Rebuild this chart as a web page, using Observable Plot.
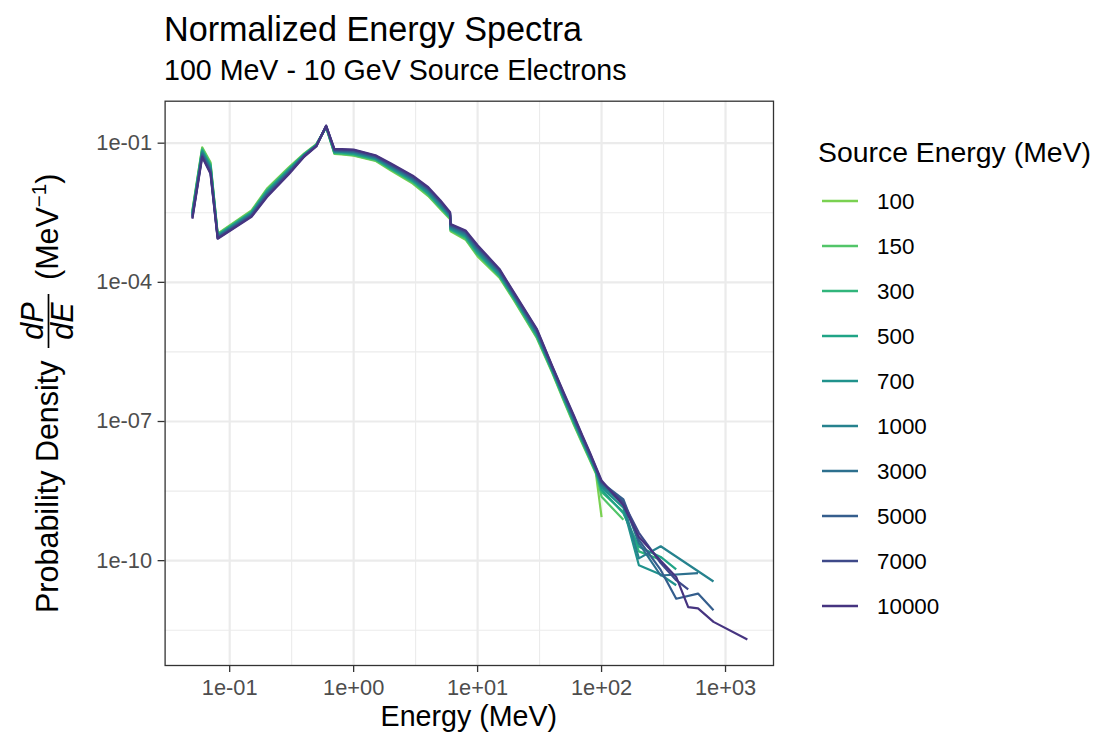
<!DOCTYPE html>
<html><head><meta charset="utf-8">
<script src="https://cdn.jsdelivr.net/npm/d3@7"></script>
<script src="https://cdn.jsdelivr.net/npm/@observablehq/plot@0.6"></script>
<style>
body{margin:0;background:#fff;}
#chart svg{display:block;}
</style>
</head><body><div id="chart"></div>
<script>
// Energy bins (MeV)
const energies = [0.05,0.06,0.07,0.08,0.15,0.2,0.3,0.4,0.5,0.6,0.7,0.8,1,1.5,2,3,4,5,6,6.05,8,10,15,20,30,40,50,60,70,80,90,
                  100,150,200,300,400,500,600,800,1500];
const sourceEnergies = [100,150,300,500,700,1000,3000,5000,7000,10000];

// log10 of dP/dE (MeV^-1) per source energy; null = empty bin
const logP100   = [-2.45,-1.09,-1.41,-2.95,-2.45,-1.98,-1.52,-1.22,-1.02,-0.66,-1.23,-1.24,-1.27,-1.38,-1.59,-1.87,-2.14,-2.42,-2.64,-2.90,-3.08,-3.44,-3.90,-4.42,-5.20,-5.95,-6.58,-7.08,-7.48,-7.82,-8.12,
                   -9.06,null,null,null,null,null,null,null,null];
const logP150   = [-2.47,-1.11,-1.44,-2.96,-2.47,-2.00,-1.54,-1.23,-1.03,-0.66,-1.22,-1.23,-1.26,-1.37,-1.57,-1.85,-2.12,-2.40,-2.62,-2.88,-3.06,-3.41,-3.88,-4.40,-5.18,-5.93,-6.56,-7.06,-7.46,-7.80,-8.10,
                   -8.62,-9.12,null,null,null,null,null,null,null];
const logP300   = [-2.49,-1.14,-1.47,-2.97,-2.48,-2.02,-1.55,-1.24,-1.03,-0.65,-1.21,-1.22,-1.24,-1.35,-1.56,-1.83,-2.10,-2.38,-2.61,-2.86,-3.04,-3.39,-3.86,-4.38,-5.16,-5.92,-6.54,-7.04,-7.44,-7.78,-8.09,
                   -8.52,-8.95,-9.80,-9.98,null,null,null,null,null];
const logP500   = [-2.51,-1.16,-1.49,-2.99,-2.50,-2.04,-1.57,-1.24,-1.04,-0.65,-1.20,-1.20,-1.23,-1.34,-1.54,-1.81,-2.08,-2.36,-2.59,-2.85,-3.01,-3.36,-3.84,-4.36,-5.13,-5.90,-6.52,-7.01,-7.42,-7.76,-8.07,
                   -8.47,-8.98,-9.70,-9.92,-10.19,null,null,null,null];
const logP700   = [-2.53,-1.18,-1.52,-3.00,-2.51,-2.06,-1.59,-1.25,-1.04,-0.64,-1.19,-1.19,-1.21,-1.33,-1.52,-1.79,-2.06,-2.34,-2.57,-2.83,-2.99,-3.33,-3.82,-4.34,-5.11,-5.88,-6.50,-6.99,-7.40,-7.74,-8.06,
                   -8.42,-8.86,-10.10,-10.30,-10.53,null,null,null,null];
const logP1000  = [-2.55,-1.21,-1.55,-3.01,-2.53,-2.08,-1.60,-1.26,-1.05,-0.64,-1.17,-1.18,-1.20,-1.31,-1.51,-1.78,-2.03,-2.31,-2.56,-2.81,-2.97,-3.31,-3.79,-4.33,-5.09,-5.87,-6.48,-6.97,-7.38,-7.73,-8.04,
                   -8.38,-8.78,-9.95,-9.69,null,null,null,-10.45,null];
const logP3000  = [-2.57,-1.23,-1.58,-3.02,-2.54,-2.10,-1.62,-1.27,-1.05,-0.64,-1.16,-1.17,-1.18,-1.30,-1.49,-1.76,-2.01,-2.29,-2.54,-2.79,-2.95,-3.28,-3.77,-4.31,-5.07,-5.85,-6.46,-6.95,-7.36,-7.71,-8.03,
                   -8.35,-8.72,-9.62,-10.32,null,null,-10.27,null,null];
const logP5000  = [-2.59,-1.25,-1.60,-3.04,-2.56,-2.12,-1.64,-1.27,-1.06,-0.63,-1.15,-1.16,-1.17,-1.29,-1.47,-1.74,-1.99,-2.27,-2.52,-2.78,-2.92,-3.25,-3.75,-4.29,-5.04,-5.83,-6.44,-6.92,-7.34,-7.69,-8.01,
                   -8.32,-8.68,-9.55,-10.20,-10.82,null,-10.71,-11.07,null];
const logP7000  = [-2.61,-1.28,-1.63,-3.05,-2.57,-2.14,-1.65,-1.28,-1.06,-0.63,-1.14,-1.14,-1.15,-1.27,-1.46,-1.72,-1.97,-2.25,-2.51,-2.76,-2.90,-3.23,-3.73,-4.27,-5.02,-5.82,-6.42,-6.90,-7.32,-7.67,-8.00,
                   -8.30,-8.75,-9.40,-10.05,-10.42,-10.62,null,null,null];
const logP10000 = [-2.63,-1.30,-1.66,-3.06,-2.59,-2.16,-1.67,-1.29,-1.07,-0.62,-1.13,-1.13,-1.14,-1.26,-1.44,-1.70,-1.95,-2.23,-2.49,-2.74,-2.88,-3.20,-3.71,-4.25,-5.00,-5.80,-6.40,-6.88,-7.30,-7.65,-7.98,
                   -8.27,-8.81,-9.49,-10.00,-10.35,-11.00,-11.03,-11.32,-11.70];
const seriesValues = [logP100,logP150,logP300,logP500,logP700,logP1000,logP3000,logP5000,logP7000,logP10000];

// Axes
const xTicks = [0.1, 1, 10, 100, 1000];
const xTickLabels = ["1e-01","1e+00","1e+01","1e+02","1e+03"];
const yTicks = [1e-1, 1e-4, 1e-7, 1e-10];
const yTickLabels = ["1e-01","1e-04","1e-07","1e-10"];
const xMinor = [10**-0.5, 10**0.5, 10**1.5, 10**2.5];
const yMinor = [10**-2.5, 10**-5.5, 10**-8.5, 10**-11.5];

// Build tidy table
const data = [];
sourceEnergies.forEach((s, i) => {
  seriesValues[i].forEach((v, j) => {
    if (v !== null) data.push({source: String(s), E: energies[j], P: 10 ** v});
  });
});

const FONT = "'Liberation Sans', Arial, Helvetica, sans-serif";
const colors = sourceEnergies.map((_, i) => d3.interpolateViridis(0.8 - i * (0.65 / 9)));

const W = 1097, H = 736;
const mL = 164.6, mR = W - 773, mT = 100.7, mB = H - 665;

const chart = Plot.plot({
  width: W, height: H,
  marginLeft: mL, marginRight: mR, marginTop: mT, marginBottom: mB,
  style: {fontFamily: FONT, fontSize: "21.8px", background: "white", color: "#4D4D4D"},
  x: {type: "log", domain: [10 ** -1.521, 10 ** 3.387]},
  y: {type: "log", domain: [10 ** -12.26, 10 ** -0.095]},
  color: {domain: sourceEnergies.map(String), range: colors},
  marks: [
    Plot.ruleX(xMinor, {stroke: "#EBEBEB", strokeWidth: 1.1}),
    Plot.ruleY(yMinor, {stroke: "#EBEBEB", strokeWidth: 1.1}),
    Plot.ruleX(xTicks, {stroke: "#EBEBEB", strokeWidth: 2.2}),
    Plot.ruleY(yTicks, {stroke: "#EBEBEB", strokeWidth: 2.2}),
    Plot.line(data, {x: "E", y: "P", z: "source", stroke: "source", strokeWidth: 2.2, strokeLinecap: "butt"}),
    Plot.frame({stroke: "#333333", strokeWidth: 1.3}),
    Plot.axisX({ticks: xTicks, tickFormat: d => xTickLabels[xTicks.indexOf(d)], tickSize: 7, tickPadding: 7,
                stroke: "#333333", fill: "#4D4D4D", strokeWidth: 1.3, label: null}),
    Plot.axisY({ticks: yTicks, tickFormat: d => yTickLabels[yTicks.indexOf(d)], tickSize: 7, tickPadding: 6,
                stroke: "#333333", fill: "#4D4D4D", strokeWidth: 1.3, label: null})
  ]
});

const svg = d3.select(chart);
const colorScale = chart.scale("color");

// Title & subtitle
svg.append("text").attr("x", 164).attr("y", 41).attr("font-size", 34.2).attr("fill", "#000")
  .attr("text-anchor", "start").attr("font-family", FONT).text("Normalized Energy Spectra");
svg.append("text").attr("x", 164).attr("y", 80).attr("font-size", 28.6).attr("fill", "#000")
  .attr("text-anchor", "start").attr("font-family", FONT).text("100 MeV - 10 GeV Source Electrons");

// X title
svg.append("text").attr("x", (mL + 773) / 2).attr("y", 726).attr("text-anchor", "middle")
  .attr("font-size", 28.6).attr("fill", "#000").attr("font-family", FONT).text("Energy (MeV)");

// Y title (rotated, with fraction)
const yt = svg.append("g").attr("fill", "#000").attr("font-family", FONT).attr("font-size", 30.5)
  .attr("text-anchor", "start");
yt.append("text").attr("transform", "translate(58,613) rotate(-90)").attr("text-anchor", "start").text("Probability Density");
yt.append("text").attr("transform", "translate(43,321) rotate(-90)").attr("text-anchor", "middle")
  .attr("font-style", "italic").text("dP");
yt.append("line").attr("x1", 48.5).attr("x2", 48.5).attr("y1", 294).attr("y2", 348)
  .attr("stroke", "#000").attr("stroke-width", 1.7);
yt.append("text").attr("transform", "translate(73,321) rotate(-90)").attr("text-anchor", "middle")
  .attr("font-style", "italic").text("dE");
const mev = yt.append("text").attr("transform", "translate(58,280) rotate(-90)").attr("text-anchor", "start");
mev.append("tspan").text("(MeV");
mev.append("tspan").attr("font-size", 20.5).attr("dy", -12).text("\u22121");
mev.append("tspan").attr("dy", 12).text(")");

// Legend
const lg = svg.append("g").attr("font-family", FONT).attr("text-anchor", "start");
lg.append("text").attr("x", 818).attr("y", 162).attr("font-size", 28.4).attr("fill", "#000")
  .attr("text-anchor", "start").text("Source Energy (MeV)");
sourceEnergies.forEach((s, i) => {
  const y = 201 + 45 * i;
  lg.append("line").attr("x1", 822).attr("x2", 858).attr("y1", y).attr("y2", y)
    .attr("stroke", colorScale.apply(String(s))).attr("stroke-width", 2.3);
  lg.append("text").attr("x", 877).attr("y", y).attr("dy", "0.36em").attr("font-size", 22.4)
    .attr("text-anchor", "start").attr("fill", "#000").text(String(s));
});

document.getElementById("chart").appendChild(chart);
</script>
</body></html>
